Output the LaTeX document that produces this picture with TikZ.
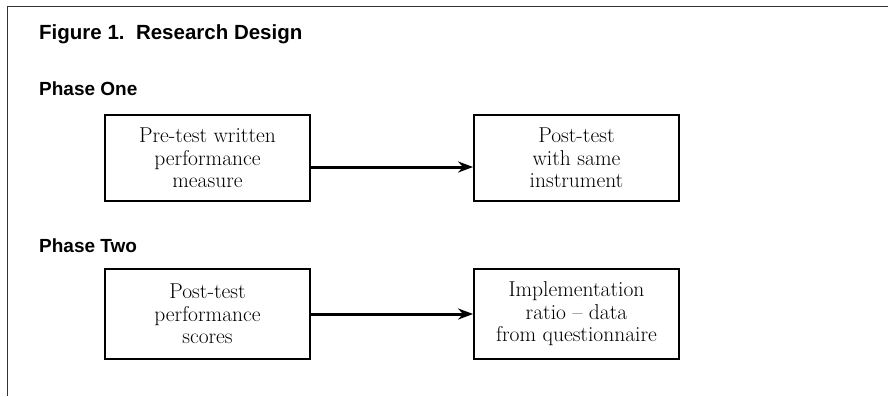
\documentclass[tikz,border=0pt]{standalone}
\usepackage{fontspec}
\newfontfamily\labelfont{Liberation Sans}
\usetikzlibrary{arrows.meta,calc}
\tikzset{
  frameline/.style={line width=0.9pt, draw=black!80},
  stagebox/.style={draw, line width=1.8pt, minimum width=205pt, align=center,
    font=\fontsize{21.5}{22.5}\selectfont, inner sep=0pt},
  heading/.style={anchor=base west, inner sep=0pt, font=\labelfont\bfseries\fontsize{19}{22}\selectfont},
  flow/.style={line width=3pt, -{Stealth[length=15pt,width=11pt]}},
}
\begin{document}
\begin{tikzpicture}[x=1pt,y=-1pt]
\useasboundingbox (0,0) rectangle (888,396);
\coordinate (fa) at (7,6);
\coordinate (fb) at (888,6);
\coordinate (fc) at (7,396);
\draw[frameline] (fb) -- (fa) -- (fc);

\node[heading, font=\labelfont\bfseries\fontsize{20.5}{22}\selectfont] (title) at (39,40) {Figure 1.\ \ Research Design};
\node[heading] (p1) at (39,95) {Phase One};
\node[heading] (p2) at (39,252) {Phase Two};

\node[stagebox, minimum height=86pt] (a) at (207.5,158) {Pre-test written\\performance\\measure};
\node[stagebox, minimum height=86pt] (b) at (576.5,158) {Post-test\\with same\\instrument};
\node[stagebox, minimum height=90pt] (c) at (207.5,314) {Post-test\\performance\\scores};
\node[stagebox, minimum height=90pt] (d) at (576.5,314) {Implementation\\ratio -- data\\from questionnaire};

\draw[flow] ($(a.east)+(0,9)$) -- ($(b.west)+(0,9)$);
\draw[flow] (c.east) -- (d.west);
\end{tikzpicture}
\end{document}
